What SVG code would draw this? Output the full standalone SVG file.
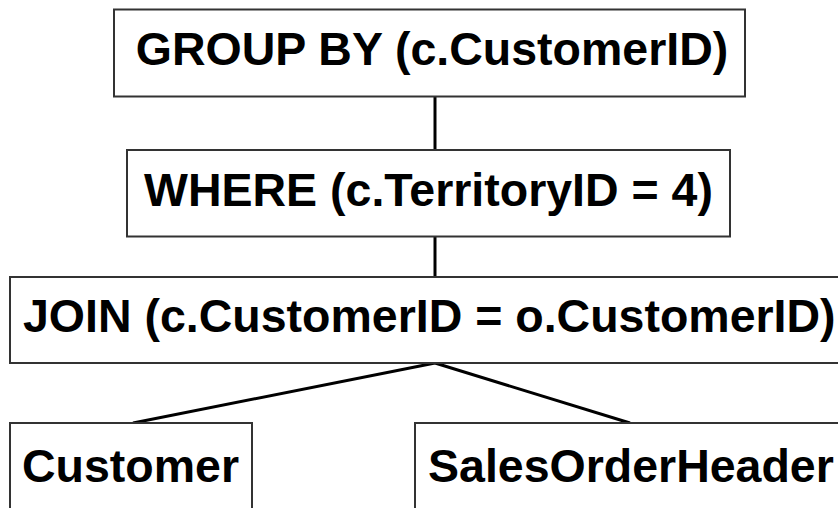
<svg xmlns="http://www.w3.org/2000/svg" width="838" height="508" viewBox="0 0 838 508">
<style>
.box{fill:#fff;stroke:#333;stroke-width:2}
.lbl{font-family:"Liberation Sans",Arial,sans-serif;font-weight:bold;font-size:46.5px;fill:#000}
.edge{stroke:#000;stroke-width:3;fill:none}
</style>
<rect width="838" height="508" fill="#fff"/>
<g id="connectors">
<line class="edge" x1="435" y1="97" x2="435" y2="150"/>
<line class="edge" x1="435" y1="236" x2="435" y2="277"/>
<line class="edge" x1="435" y1="363" x2="133" y2="423"/>
<line class="edge" x1="435" y1="363" x2="630" y2="423"/>
</g>
<g id="groupby">
<rect class="box" x="114" y="9.5" width="631" height="87"/>
<text class="lbl" x="432" y="65" text-anchor="middle">GROUP BY (c.CustomerID)</text>
</g>
<g id="where">
<rect class="box" x="127" y="150" width="603" height="86.5"/>
<text class="lbl" x="428.5" y="206" text-anchor="middle">WHERE (c.TerritoryID = 4)</text>
</g>
<g id="join">
<rect class="box" x="10" y="277" width="840" height="86"/>
<text class="lbl" x="23" y="332">JOIN (c.CustomerID = o.CustomerID)</text>
</g>
<g id="customer">
<rect class="box" x="10" y="423" width="242" height="100"/>
<text class="lbl" x="22" y="482">Customer</text>
</g>
<g id="salesorderheader">
<rect class="box" x="415" y="423" width="440" height="100"/>
<text class="lbl" x="428" y="482">SalesOrderHeader</text>
</g>
</svg>
